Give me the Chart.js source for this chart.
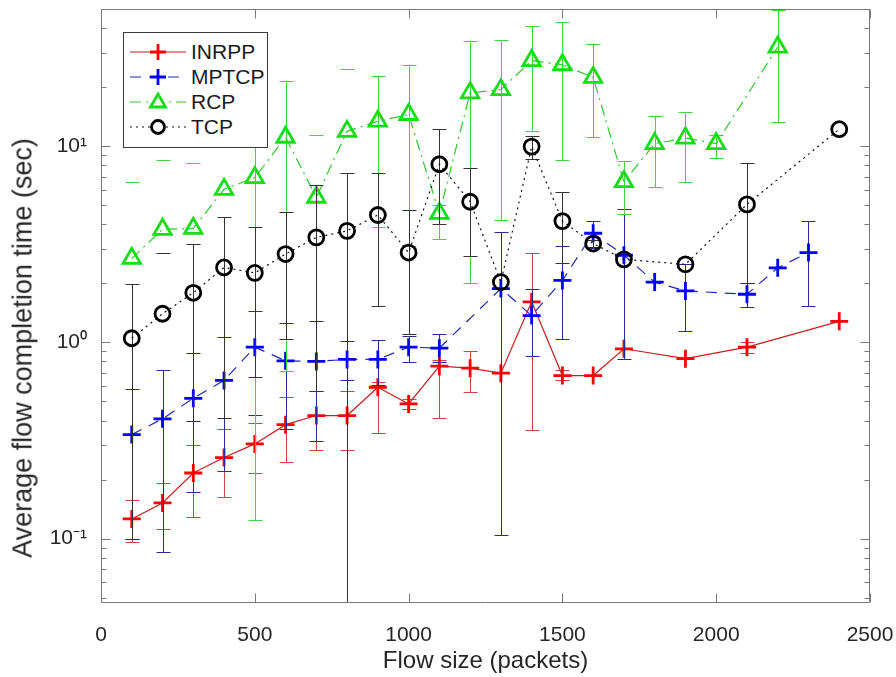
<!DOCTYPE html>
<html>
<head>
<meta charset="utf-8">
<script src="https://cdn.jsdelivr.net/npm/chart.js@4.4.1/dist/chart.umd.min.js"></script>
<style>
  body { margin: 0; background: #fff; }
  #wrap { position: relative; width: 896px; height: 677px; }
  #legend {
    position: absolute; left: 123px; top: 32px; width: 143px; height: 114px;
    border: 1px solid #3a3a3a; background: #fff;
    font-family: Arial, "Liberation Sans", sans-serif; font-size: 21px; color: #1a1a1a;
  }
  .row { position: absolute; left: 0; height: 24px; width: 143px; }
  .row svg { position: absolute; left: 6px; top: 0; }
  .row span { position: absolute; left: 67px; top: 1px; line-height: 22px; }
  #ytitle {
    position: absolute; left: 23px; top: 348px;
    transform: translate(-50%, -50%) rotate(-90deg);
    white-space: nowrap;
    font-family: Arial, "Liberation Sans", sans-serif; font-size: 27px; color: #262626;
  }
</style>
</head>
<body>
<div id="wrap">
  <canvas id="fct"></canvas>
  <div id="ytitle">Average flow completion time (sec)</div>
  <div id="legend"></div>
</div>
<script>
// Data
const inrppX = [100, 200, 300, 400, 500, 600, 700, 800, 900, 1000, 1100, 1200, 1300, 1400, 1500, 1600, 1700, 1900, 2100, 2400];
const inrppY = [0.126, 0.152, 0.216, 0.259, 0.304, 0.381, 0.424, 0.424, 0.591, 0.486, 0.757, 0.739, 0.697, 1.61, 0.678, 0.678, 0.928, 0.826, 0.946, 1.28];
const inrppLow = [0.096, 0.112, 0.129, 0.163, 0.217, 0.245, 0.283, 0.283, 0.346, 0.458, 0.41, 0.562, null, 0.358, 0.64, null, null, null, 0.886, null];
const inrppHigh = [0.157, 0.192, 0.301, 0.364, 0.387, 0.524, 0.567, 0.567, 0.63, 0.515, 0.81, 0.903, null, 2.87, 0.725, null, null, null, 1.01, null];

const mptcpX = [100, 200, 300, 400, 500, 600, 700, 800, 900, 1000, 1100, 1300, 1400, 1500, 1600, 1700, 1800, 1900, 2100, 2200, 2300];
const mptcpY = [0.339, 0.408, 0.519, 0.64, 0.946, 0.806, 0.80, 0.819, 0.819, 0.946, 0.935, 1.88, 1.37, 2.07, 3.60, 2.78, 2.03, 1.83, 1.76, 2.40, 2.87];
const mptcpLow = [0.1, 0.0855, 0.173, 0.22, 0.427, 0.362, 0.314, 0.64, 0.61, 0.797, 0.793, 0.104, 0.851, 1.04, 3.03, 0.82, null, 1.14, 1.51, null, 1.53];
const mptcpHigh = [0.58, 0.725, 0.879, 1.06, 1.45, 1.25, 1.28, 1.015, 1.03, 1.077, 1.099, 3.66, 1.88, 3.10, 4.17, 4.8, null, 2.52, 2.0, null, 4.17];

const rcpX = [100, 200, 300, 400, 500, 600, 700, 800, 900, 1000, 1100, 1200, 1300, 1400, 1500, 1600, 1700, 1800, 1900, 2000, 2200];
const rcpY = [2.68, 3.77, 3.81, 6.03, 6.91, 11.1, 5.49, 11.9, 13.4, 14.5, 4.54, 18.7, 19.4, 27.3, 26.0, 22.4, 6.59, 10.3, 11.0, 10.3, 32.0];
// null low with a high value = only the upper cap is visible (lower end below zero)
const rcpLow = [null, null, null, null, 0.124, 0.713, null, null, 3.88, 3.1, 3.35, 2.0, 4.2, 11.9, 8.51, 11.1, 4.5, 6.17, 6.57, 8.74, 13.3];
const rcpHigh = [6.55, 8.51, 8.19, null, 13.7, 21.4, 11.4, 24.7, 22.9, 25.9, 5.01, 34.5, 34.6, 40.8, 42.8, 33.2, 8.44, 14.2, 14.9, 11.4, 49.3];

const tcpX = [100, 200, 300, 400, 500, 600, 700, 800, 900, 1000, 1100, 1200, 1300, 1400, 1500, 1600, 1700, 1900, 2100, 2400];
const tcpY = [1.05, 1.40, 1.79, 2.41, 2.26, 2.82, 3.43, 3.70, 4.46, 2.87, 8.09, 5.21, 2.03, 9.95, 4.15, 3.19, 2.65, 2.50, 5.05, 12.2];
const tcpLow = [0.1, null, 0.40, 0.41, 0.665, 1.04, 0.567, 0.04, 1.53, 1.1, 3.99, 2.75, null, 8.59, 2.55, 3.05, null, null, 2.0, null];
const tcpHigh = [1.99, 2.87, 3.17, 4.37, 3.86, 4.62, 6.34, 7.33, 7.28, 4.73, 12.2, 7.72, null, 11.3, 5.82, 3.33, null, null, 8.25, null];

const xTickValues = [0, 500, 1000, 1500, 2000, 2500];
const xTickLabels = ['0', '500', '1000', '1500', '2000', '2500'];
const yTickValues = [0.1, 1, 10];
const yTickLabels = ['10\u207B\u00B9', '10\u2070', '10\u00B9'];

const FONT = 'Arial, "Liberation Sans", Helvetica, sans-serif';
Chart.defaults.font.family = FONT;

function points(xs, ys) {
  return xs.map((x, i) => ({ x: x, y: ys[i] }));
}

// error bars drawn under each series, through the chart scales
const errorBars = {
  id: 'errorBars',
  beforeDatasetDraw(chart, args) {
    const ds = chart.data.datasets[args.index];
    if (!ds.errHigh) return;
    const { ctx, chartArea: a } = chart;
    const sx = chart.scales.x, sy = chart.scales.y;
    const w = 7;
    ctx.save();
    ctx.beginPath();
    ctx.rect(a.left, a.top, a.right - a.left, a.bottom - a.top);
    ctx.clip();
    ctx.strokeStyle = ds.errColor;
    ctx.lineWidth = 1;
    ds.data.forEach((p, i) => {
      const hi = ds.errHigh[i];
      const lo = ds.errLow[i];
      if (hi == null) return;
      const px = Math.round(sx.getPixelForValue(p.x)) + 0.5;
      const top = Math.round(sy.getPixelForValue(hi)) + 0.5;
      ctx.beginPath();
      ctx.moveTo(px - w, top);
      ctx.lineTo(px + w, top);
      if (lo != null) {
        const bot = Math.round(sy.getPixelForValue(lo)) + 0.5;
        ctx.moveTo(px, top);
        ctx.lineTo(px, bot);
        ctx.moveTo(px - w, bot);
        ctx.lineTo(px + w, bot);
      }
      ctx.stroke();
    });
    ctx.restore();
  }
};

// matlab style box with inward ticks
const axisBox = {
  id: 'axisBox',
  afterDatasetsDraw(chart) {
    const { ctx, chartArea: a } = chart;
    const sx = chart.scales.x, sy = chart.scales.y;
    ctx.save();
    ctx.strokeStyle = '#7a7a7a';
    ctx.lineWidth = 1;
    const L = a.left + 0.5, R = a.right - 0.5, T = a.top + 0.5, B = a.bottom - 0.5;
    ctx.beginPath();
    ctx.rect(L, T, R - L, B - T);
    xTickValues.forEach(v => {
      const px = Math.round(sx.getPixelForValue(v)) + 0.5;
      ctx.moveTo(px, B); ctx.lineTo(px, B - 9);
      ctx.moveTo(px, T); ctx.lineTo(px, T + 9);
    });
    [0.01, 0.1, 1, 10].forEach(d => {
      for (let m = 1; m <= 9; m++) {
        const v = m * d;
        if (v < sy.min || v > sy.max) continue;
        const py = Math.round(sy.getPixelForValue(v)) + 0.5;
        const len = m === 1 ? 9 : 5;
        ctx.moveTo(L, py); ctx.lineTo(L + len, py);
        ctx.moveTo(R, py); ctx.lineTo(R - len, py);
      }
    });
    ctx.stroke();
    ctx.restore();
  }
};

const series = [
  { label: 'INRPP', xs: inrppX, ys: inrppY, lo: inrppLow, hi: inrppHigh, line: '#c81e1e', mark: '#ff0000', err: '#cc4444', style: 'cross', r: 9, dash: [], order: 4 },
  { label: 'MPTCP', xs: mptcpX, ys: mptcpY, lo: mptcpLow, hi: mptcpHigh, line: '#1e2ab4', mark: '#0000ff', err: '#2a2a96', style: 'cross', r: 9, dash: [11, 8], order: 3 },
  { label: 'RCP', xs: rcpX, ys: rcpY, lo: rcpLow, hi: rcpHigh, line: '#2ec82e', mark: '#13dd13', err: '#46d046', style: 'triangle', r: 10, dash: [11, 5, 2, 5], order: 2 },
  { label: 'TCP', xs: tcpX, ys: tcpY, lo: tcpLow, hi: tcpHigh, line: '#111111', mark: '#000000', err: '#333333', style: 'circle', r: 7.5, dash: [2, 4], order: 1 }
];

new Chart(document.getElementById('fct'), {
  type: 'line',
  data: {
    datasets: series.map(s => ({
      label: s.label,
      data: points(s.xs, s.ys),
      errLow: s.lo,
      errHigh: s.hi,
      errColor: s.err,
      borderColor: s.line,
      borderWidth: 1.2,
      borderDash: s.dash,
      pointStyle: s.style,
      pointRadius: s.r,
      pointBorderWidth: 2.8,
      pointBorderColor: s.mark,
      pointBackgroundColor: 'rgba(0,0,0,0)',
      fill: false,
      tension: 0,
      order: s.order
    }))
  },
  options: {
    responsive: true,
    maintainAspectRatio: false,
    animation: false,
    layout: { padding: { left: 0, right: 26, top: 9, bottom: 0 }, autoPadding: false },
    plugins: {
      legend: { display: false },
      tooltip: { enabled: false }
    },
    scales: {
      x: {
        type: 'linear',
        min: 0,
        max: 2500,
        afterBuildTicks: s => { s.ticks = xTickValues.map(v => ({ value: v })); },
        afterFit: s => { s.height = 74; s.paddingLeft = 0; s.paddingRight = 0; },
        grid: { display: false, drawTicks: false },
        border: { display: false },
        ticks: {
          padding: 20,
          color: '#262626',
          font: { size: 21 },
          maxRotation: 0,
          callback: (v, i) => xTickLabels[i]
        },
        title: {
          display: true,
          text: 'Flow size (packets)',
          color: '#262626',
          font: { size: 24 },
          padding: { top: 0, bottom: 1 }
        }
      },
      y: {
        type: 'logarithmic',
        min: 0.047,
        max: 50,
        afterBuildTicks: s => { s.ticks = yTickValues.map(v => ({ value: v })); },
        afterFit: s => { s.width = 101; s.paddingTop = 0; s.paddingBottom = 0; },
        grid: { display: false, drawTicks: false },
        border: { display: false },
        ticks: {
          padding: 14,
          color: '#262626',
          font: { size: 21 },
          callback: (v, i) => yTickLabels[i]
        },
        title: { display: false }
      }
    }
  },
  plugins: [errorBars, axisBox]
});

// legend box with line samples
const legendEl = document.getElementById('legend');
series.forEach((s, i) => {
  const row = document.createElement('div');
  row.className = 'row';
  row.style.top = (7 + i * 25) + 'px';
  const cy = 12, cx = 28;
  let marker = '';
  if (s.style === 'cross') {
    marker = `<path d="M${cx - 8} ${cy}H${cx + 8}M${cx} ${cy - 8}V${cy + 8}" stroke="${s.mark}" stroke-width="2.8"/>`;
  } else if (s.style === 'triangle') {
    marker = `<path d="M${cx} ${cy - 8}L${cx + 7.5} ${cy + 5}L${cx - 7.5} ${cy + 5}Z" fill="#fff" stroke="${s.mark}" stroke-width="2.8"/>`;
  } else {
    marker = `<circle cx="${cx}" cy="${cy}" r="6.5" fill="#fff" stroke="${s.mark}" stroke-width="2.8"/>`;
  }
  const dash = s.dash.length ? `stroke-dasharray="${s.dash.join(' ')}"` : '';
  row.innerHTML =
    `<svg width="56" height="24"><line x1="0" y1="${cy}" x2="56" y2="${cy}" stroke="${s.line}" stroke-width="1.2" ${dash}/>${marker}</svg>` +
    `<span>${s.label}</span>`;
  legendEl.appendChild(row);
});
</script>
</body>
</html>
